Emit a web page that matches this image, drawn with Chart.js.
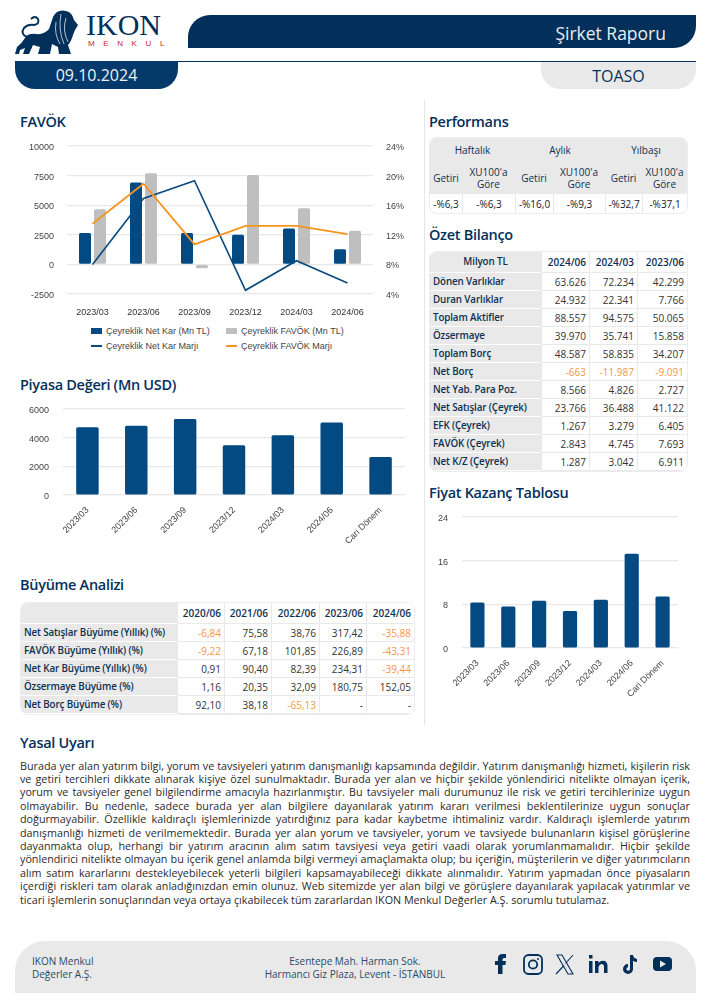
<!DOCTYPE html>
<html lang="tr">
<head>
<meta charset="utf-8">
<title>TOASO Şirket Raporu</title>
<script src="https://cdn.jsdelivr.net/npm/chart.js@4"></script>
<style>
*{box-sizing:border-box}
html,body{margin:0;padding:0;background:#fff;overflow:hidden}
body{width:710px;height:1006px;position:relative;font-family:"Open Sans",sans-serif;color:#0b3152}
.a{position:absolute;white-space:nowrap}
.title{font-size:14.5px;font-weight:600;letter-spacing:-.3px;color:#03305a;line-height:20px;height:20px}
canvas{position:absolute;display:block}
table{position:absolute;border-collapse:separate;border-spacing:0;table-layout:fixed;font-size:10px;line-height:12px;border-radius:8px;overflow:hidden;border:1px solid #ececec;background:#fff}
td,th{padding:0 3px;overflow:hidden;white-space:nowrap}
.lab{background:#e9e9e9;font-weight:600;font-size:9.8px;letter-spacing:-.12px;color:#0d3050;text-align:left;border-bottom:1px solid #fff}
.num{text-align:right;color:#333;border-left:1px solid #e9e9e9;border-bottom:1px solid #e9e9e9;background:#fff}
.hd{text-align:center;font-weight:600;color:#0d3050;border-left:1px solid #e9e9e9;border-bottom:1px solid #e9e9e9;background:#fff}
.neg{color:#f79646}
.perf th{background:#e9e9e9;font-weight:500;color:#0d3050;text-align:center;padding:0;white-space:normal}
.perf td{text-align:center;font-weight:500;color:#14202c;padding:0;border-left:1px solid #e9e9e9}
.perf td:first-child{border-left:0}
.legal{position:absolute;left:20px;width:670px;font-size:10.75px;line-height:13.4px;height:13.4px;color:#2a2a2a;text-align:justify;text-align-last:justify;overflow:hidden}
.legal.last{text-align-last:left}
.lg{position:absolute;font:9px "Liberation Sans",Arial,sans-serif;color:#444;white-space:nowrap;line-height:12px}
.sw{position:absolute}
</style>
</head>
<body>
<svg class="a" style="left:0;top:0" width="90" height="60" viewBox="0 0 90 60">
  <path fill="#03305a" d="M15 54 L17 47 Q22 43 25 38 Q28 33 36 34 Q44 35 49 29 L53 17 Q57 9 66 11 Q72 12 74 20 L78 25 L75 30 L73 35 Q71 42 68 45 L71 54 L59 54 L58 47 L52 44 L50 54 L38 54 L40 47 L33 45 L29 54 L23 54 L25 48 L20 50 L19 54 Z"/>
  <path fill="none" stroke="#03305a" stroke-width="2" d="M27 37 Q20 34 24 28 Q28 24 34 25 Q40 24 38 19 Q35 15 31 19"/>
  <path fill="none" stroke="#fff" stroke-width=".7" d="M61 14 Q58 30 64 44 M66 18 Q62 30 68 42 M56 22 Q54 34 60 44"/>
</svg>
<div class="a" style="left:86px;top:10px;font:30px/30px 'Liberation Serif',serif;color:#03305a">IKON</div>
<div class="a" style="left:88px;top:39px;font:8px/10px 'Liberation Sans',sans-serif;color:#c8242f;letter-spacing:8.6px">MENKUL</div>

<div class="a" style="left:188px;top:15px;width:508px;height:33px;background:#03305a;border-radius:22px 0 22px 0"></div>
<div class="a" style="right:44px;top:21px;font-size:17.5px;line-height:24px;color:#e8edf2">Şirket Raporu</div>
<div class="a" style="left:15px;top:61px;width:681px;height:1px;background:#03305a"></div>
<div class="a" style="left:15px;top:61px;width:163px;height:28px;background:#043a6b;border-radius:0 0 20px 20px;color:#eef2f6;font-size:16px;line-height:29px;text-align:center">09.10.2024</div>
<div class="a" style="left:541px;top:62px;width:155px;height:27px;background:#e9e9e9;border-radius:0 0 20px 20px;color:#03305a;font-size:16px;line-height:29px;text-align:center">TOASO</div>
<div class="a" style="left:424px;top:100px;width:1px;height:625px;background:#e6e6e6"></div>

<div class="a title" style="left:20px;top:112px">FAVÖK</div>
<div class="a title" style="left:429px;top:112px">Performans</div>
<div class="a title" style="left:429px;top:225px">Özet Bilanço</div>
<div class="a title" style="left:20px;top:375px">Piyasa Değeri (Mn USD)</div>
<div class="a title" style="left:429px;top:483px">Fiyat Kazanç Tablosu</div>
<div class="a title" style="left:20px;top:575px">Büyüme Analizi</div>
<div class="a title" style="left:20px;top:733px">Yasal Uyarı</div>

<canvas id="c1" width="400" height="190" style="left:20px;top:135px"></canvas>
<canvas id="c2" width="400" height="150" style="left:20px;top:400px"></canvas>
<canvas id="c3" width="262" height="200" style="left:428px;top:508px"></canvas>
<div id="legend"></div>
<div id="tables"></div>
<div id="legal"></div>

<div class="a" style="left:15px;top:941px;width:681px;height:52px;background:#e9e9e9;border-radius:30px 30px 0 0"></div>
<div class="a" style="left:32px;top:955px;font-size:10px;line-height:13px;color:#2a4a68">IKON Menkul<br>Değerler A.Ş.</div>
<div class="a" style="left:205px;width:300px;top:955px;font-size:10px;line-height:13px;color:#2a4a68;text-align:center">Esentepe Mah. Harman Sok.<br>Harmancı Giz Plaza, Levent - İSTANBUL</div>
<svg class="a" style="left:485px;top:945px" width="200" height="40" viewBox="0 0 200 40">
  <g fill="#03305a" stroke="none">
    <path d="M13 29V20H10v-4h3v-3q0-4 5-4h3v4h-2q-1.500 0-1.500 1.500V16h3.500l-.6 4H17.500v9z"/>
    <path d="M104 16h3.500v12h-3.500zM104 10h3.500v3.500h-3.500zM110 16h3.500v2q1.600-2.300 4.500-2.300 4.500 0 4.500 5.500V28h-3.500v-6q0-3-2.300-3t-3.200 3v6H110z"/>
    <path d="M145 10h3q.5 3.500 4 4v3q-2 0-4-1.300V24a5 5 0 1 1-5-5v3.200a1.800 1.800 0 1 0 2 1.800z"/>
    <rect x="168" y="12" width="19" height="14" rx="4"/>
  </g>
  <path fill="#e9e9e9" d="M175 15.500l6 3.500-6 3.500z"/>
  <g fill="none" stroke="#03305a" stroke-width="1.800">
    <rect x="39" y="10" width="18" height="19" rx="4.500"/>
    <circle cx="48" cy="19.500" r="4.200"/>
  </g>
  <circle cx="53" cy="14" r="1" fill="#03305a"/>
  <g fill="none" stroke="#03305a" stroke-width="1.100">
    <path d="M72 10h5l11 19h-5zM88 10l-7.500 8.500M79 20.500 71 29"/>
  </g>
</svg>

<script>
// FAVÖK chart
const favokCategories = ["2023/03","2023/06","2023/09","2023/12","2024/03","2024/06"];
const netKar = [2650,6911,2650,2500,3042,1287];
const favok = [4650,7693,-320,7550,4745,2843];
const netKarMarji = [8,16.9,19.3,4.5,8.5,5.5];
const favokMarji = [13.5,18.9,10.7,13.2,13.2,12.1];
// Piyasa Değeri
const valueCategories = ["2023/03","2023/06","2023/09","2023/12","2024/03","2024/06","Cari Dönem"];
const piyasaDegeri = [4735,4830,5300,3470,4170,5060,2650];
// Fiyat Kazanç
const fiyatKazanc = [8.35,7.6,8.65,6.8,8.85,17.25,9.45];
// Performans
const perfGroups = ["Haftalık","Aylık","Yılbaşı"];
const perfHeads = ["Getiri","XU100'a<br>Göre","Getiri","XU100'a<br>Göre","Getiri","XU100'a<br>Göre"];
const perfValues = ["-%6,3","-%6,3","-%16,0","-%9,3","-%32,7","-%37,1"];
// Özet Bilanço
const bilancoHeads = ["Milyon TL","2024/06","2024/03","2023/06"];
const bilancoRows = [
 ["Dönen Varlıklar","63.626","72.234","42.299"],
 ["Duran Varlıklar","24.932","22.341","7.766"],
 ["Toplam Aktifler","88.557","94.575","50.065"],
 ["Özsermaye","39.970","35.741","15.858"],
 ["Toplam Borç","48.587","58.835","34.207"],
 ["Net Borç","-663","-11.987","-9.091"],
 ["Net Yab. Para Poz.","8.566","4.826","2.727"],
 ["Net Satışlar (Çeyrek)","23.766","36.488","41.122"],
 ["EFK (Çeyrek)","1.267","3.279","6.405"],
 ["FAVÖK (Çeyrek)","2.843","4.745","7.693"],
 ["Net K/Z (Çeyrek)","1.287","3.042","6.911"]
];
// Büyüme Analizi
const buyumeHeads = ["","2020/06","2021/06","2022/06","2023/06","2024/06"];
const buyumeRows = [
 ["Net Satışlar Büyüme (Yıllık) (%)","-6,84","75,58","38,76","317,42","-35,88"],
 ["FAVÖK Büyüme (Yıllık) (%)","-9,22","67,18","101,85","226,89","-43,31"],
 ["Net Kar Büyüme (Yıllık) (%)","0,91","90,40","82,39","234,31","-39,44"],
 ["Özsermaye Büyüme (%)","1,16","20,35","32,09","180,75","152,05"],
 ["Net Borç Büyüme (%)","92,10","38,18","-65,13","-","-"]
];
const legalLines = [
"Burada yer alan yatırım bilgi, yorum ve tavsiyeleri yatırım danışmanlığı kapsamında değildir. Yatırım danışmanlığı hizmeti, kişilerin risk",
"ve getiri tercihleri dikkate alınarak kişiye özel sunulmaktadır. Burada yer alan ve hiçbir şekilde yönlendirici nitelikte olmayan içerik,",
"yorum ve tavsiyeler genel bilgilendirme amacıyla hazırlanmıştır. Bu tavsiyeler mali durumunuz ile risk ve getiri tercihlerinize uygun",
"olmayabilir. Bu nedenle, sadece burada yer alan bilgilere dayanılarak yatırım kararı verilmesi beklentilerinize uygun sonuçlar",
"doğurmayabilir. Özellikle kaldıraçlı işlemlerinizde yatırdığınız para kadar kaybetme ihtimaliniz vardır. Kaldıraçlı işlemlerde yatırım",
"danışmanlığı hizmeti de verilmemektedir. Burada yer alan yorum ve tavsiyeler, yorum ve tavsiyede bulunanların kişisel görüşlerine",
"dayanmakta olup, herhangi bir yatırım aracının alım satım tavsiyesi veya getiri vaadi olarak yorumlanmamalıdır. Hiçbir şekilde",
"yönlendirici nitelikte olmayan bu içerik genel anlamda bilgi vermeyi amaçlamakta olup; bu içeriğin, müşterilerin ve diğer yatırımcıların",
"alım satım kararlarını destekleyebilecek yeterli bilgileri kapsamayabileceği dikkate alınmalıdır. Yatırım yapmadan önce piyasaların",
"içerdiği riskleri tam olarak anladığınızdan emin olunuz. Web sitemizde yer alan bilgi ve görüşlere dayanılarak yapılacak yatırımlar ve",
"ticari işlemlerin sonuçlarından veya ortaya çıkabilecek tüm zararlardan IKON Menkul Değerler A.Ş. sorumlu tutulamaz."
];

const NAVY="#034a82", GREY="#bfbfbf", ORANGE="#f7941d", GRID="#e8e8e8", TICK="#444";
Chart.defaults.font.family='"Liberation Sans",Arial,sans-serif';
Chart.defaults.font.size=9;
Chart.defaults.color=TICK;
Chart.defaults.animation=false;
Chart.defaults.responsive=false;
Chart.defaults.devicePixelRatio=1;

function noPad(s){s.paddingLeft=0;s.paddingRight=0;s.paddingTop=0;s.paddingBottom=0}
function fixW(w){return s=>{s.width=w;noPad(s)}}
function fixH(h){return s=>{s.height=h;noPad(s)}}
const plain=v=>String(v);

new Chart(document.getElementById("c1"),{
  type:"bar",
  data:{labels:favokCategories,datasets:[
    {label:"Çeyreklik Net Kar (Mn TL)",data:netKar,backgroundColor:NAVY,yAxisID:"y",order:2,categoryPercentage:.588,barPercentage:.8,borderRadius:1.5,borderSkipped:false},
    {label:"Çeyreklik FAVÖK (Mn TL)",data:favok,backgroundColor:GREY,yAxisID:"y",order:2,categoryPercentage:.588,barPercentage:.8,borderRadius:1.5,borderSkipped:false},
    {type:"line",label:"Çeyreklik Net Kar Marjı",data:netKarMarji,borderColor:"#0a4a7f",backgroundColor:"#0a4a7f",borderWidth:1.6,pointRadius:0,tension:0,yAxisID:"y1",order:1},
    {type:"line",label:"Çeyreklik FAVÖK Marjı",data:favokMarji,borderColor:ORANGE,backgroundColor:ORANGE,borderWidth:1.8,pointRadius:0,tension:0,yAxisID:"y1",order:0}
  ]},
  options:{
    layout:{padding:{top:11,left:0,right:0,bottom:0}},
    plugins:{legend:{display:false},tooltip:{enabled:false}},
    scales:{
      x:{grid:{display:false,drawTicks:false},border:{display:false},ticks:{padding:13,maxRotation:0,color:"#333"},afterFit:fixH(31)},
      y:{position:"left",min:-2500,max:10000,ticks:{stepSize:2500,padding:13,labelOffset:1.5,callback:plain},grid:{color:GRID,lineWidth:1.2,drawTicks:false},border:{display:false},afterFit:fixW(47)},
      y1:{position:"right",min:4,max:24,ticks:{stepSize:4,padding:13,labelOffset:1.5,callback:v=>v+"%"},grid:{display:false,drawTicks:false},border:{display:false},afterFit:fixW(47)}
    }
  }
});

function singleBar(id,labels,values,max,step,yw,rp,tp,xh,rotPad){
  return new Chart(document.getElementById(id),{
    type:"bar",
    data:{labels:labels,datasets:[{data:values,backgroundColor:NAVY,categoryPercentage:1,barPercentage:.46,borderRadius:1.5,borderSkipped:false}]},
    options:{
      layout:{padding:{top:tp,right:rp,left:0,bottom:0}},
      plugins:{legend:{display:false},tooltip:{enabled:false}},
      scales:{
        x:{grid:{display:false,drawTicks:false},border:{display:false},ticks:{padding:rotPad,minRotation:45,maxRotation:45,autoSkip:false},afterFit:fixH(xh)},
        y:{min:0,max:max,ticks:{stepSize:step,padding:14,labelOffset:1.5,callback:plain},grid:{color:GRID,lineWidth:1.2,drawTicks:false},border:{display:false},afterFit:fixW(yw)}
      }
    }
  });
}
singleBar("c2",valueCategories,piyasaDegeri,6000,2000,43,15,9,55,10);
singleBar("c3",valueCategories,fiyatKazanc,24,8,34,12,9,60,10);

// legend
const lg=document.getElementById("legend");
const legendItems=[
 {t:"Çeyreklik Net Kar (Mn TL)",x:91,y:331,c:NAVY,bar:1},
 {t:"Çeyreklik FAVÖK (Mn TL)",x:226,y:331,c:GREY,bar:1},
 {t:"Çeyreklik Net Kar Marjı",x:91,y:346,c:"#0a4a7f"},
 {t:"Çeyreklik FAVÖK Marjı",x:226,y:346,c:ORANGE}
];
lg.innerHTML=legendItems.map(i=>{
  const h=i.bar?6:2;
  return `<div class="sw" style="left:${i.x}px;top:${i.y-h/2}px;width:11px;height:${h}px;background:${i.c}"></div>`+
         `<div class="lg" style="left:${i.x+15}px;top:${i.y-6}px">${i.t}</div>`;
}).join("");

// tables
function cols(ws){return "<colgroup>"+ws.map(w=>`<col style="width:${w}px">`).join("")+"</colgroup>"}
const neg=v=>v.startsWith("-")&&v.length>1?" neg":"";
function dataTable(x,y,ws,hh,heads,rows,firstCenter){
  const w=ws.reduce((a,b)=>a+b,0);
  let s=`<table style="left:${x}px;top:${y}px;width:${w}px">${cols(ws)}`;
  s+=`<tr style="height:${hh}px">`+heads.map((h,i)=>i==0?`<th class="lab" style="text-align:${firstCenter?"center":"left"}">${h}</th>`:`<th class="hd" style="text-align:right">${h}</th>`).join("")+"</tr>";
  rows.forEach(r=>{s+=`<tr style="height:18px">`+r.map((v,i)=>i==0?`<td class="lab">${v}</td>`:`<td class="num${neg(v)}">${v}</td>`).join("")+"</tr>"});
  return s+"</table>";
}
const pw=[32,53,38,52,37,45];
let perf=`<table class="perf" style="left:429px;top:137px;width:258px;height:75px">${cols(pw)}`;
perf+=`<tr style="height:23px">`+perfGroups.map(g=>`<th colspan="2">${g}</th>`).join("")+"</tr>";
perf+=`<tr style="height:33px">`+perfHeads.map(h=>`<th>${h}</th>`).join("")+"</tr>";
perf+=`<tr style="height:19px">`+perfValues.map(v=>`<td>${v}</td>`).join("")+"</tr></table>";
document.getElementById("tables").innerHTML=perf+
  dataTable(429,251,[111,48,48,50],21,bilancoHeads,bilancoRows,true)+
  dataTable(20,602,[156,47,47,48,47,48],21,buyumeHeads,buyumeRows,false);

document.getElementById("legal").innerHTML=legalLines.map((l,i)=>
  `<div class="legal${i==legalLines.length-1?" last":""}" style="top:${759.5+i*13.4}px">${l}</div>`).join("");
</script>
</body>
</html>
